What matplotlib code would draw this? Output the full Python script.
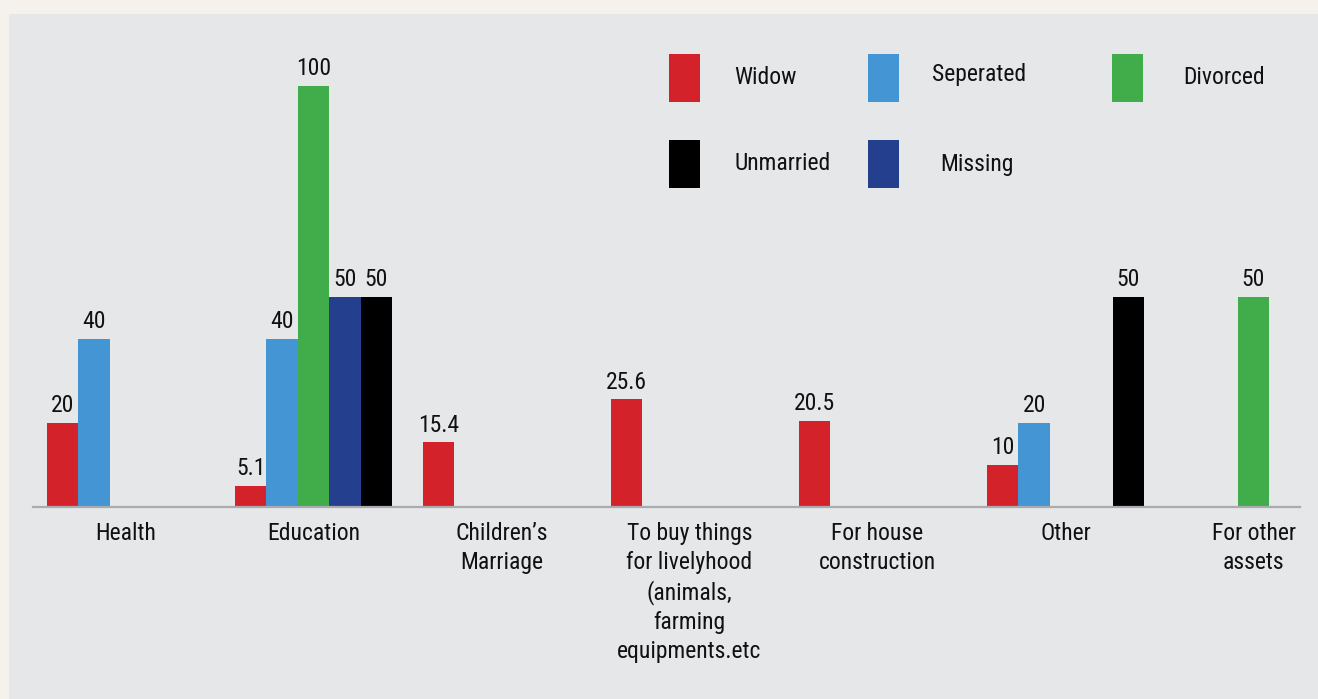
import numpy as np
import matplotlib
matplotlib.use('Agg')
import matplotlib.pyplot as plt
from matplotlib.patches import Rectangle
from matplotlib import font_manager

names = set(f.name for f in font_manager.fontManager.ttflist)
family = 'Roboto Condensed' if 'Roboto Condensed' in names else 'Roboto'
plt.rcParams['font.family'] = [family, 'DejaVu Sans']

categories = ['Health', 'Education', 'Children\u2019s\nMarriage',
              'To buy things\nfor livelyhood\n(animals,\nfarming\nequipments.etc',
              'For house\nconstruction', 'Other', 'For other\nassets']

# bar order inside each group: Widow, Seperated, Divorced, Missing, Unmarried
series = ['Widow', 'Seperated', 'Divorced', 'Missing', 'Unmarried']
widow     = [20, 5.1, 15.4, 25.6, 20.5, 10, None]
seperated = [40, 40, None, None, None, 20, None]
divorced  = [None, 100, None, None, None, None, 50]
missing   = [None, 50, None, None, None, None, None]
unmarried = [None, 50, None, None, None, 50, None]
values = [widow, seperated, divorced, missing, unmarried]

colors = {'Widow': '#d4222b', 'Seperated': '#4495d3', 'Divorced': '#41ad4a',
          'Missing': '#233f8e', 'Unmarried': '#000000'}

fig = plt.figure(figsize=(13.18, 6.99), dpi=100, facecolor='#f5f2ee')
W, H = 1318, 699

# gray panel
fig.patches.append(Rectangle((9 / W, 0), 1 - 9 / W, 1 - 14 / H,
                             transform=fig.transFigure, facecolor='#e6e7e9',
                             edgecolor='none', zorder=-1))

# axes placed so baseline spans 33..1300 px, 0 at y=507, 100 at y=86
ax = fig.add_axes([33 / W, (H - 507) / H, (1300 - 33) / W, (507 - 86) / H])
ax.set_facecolor('none')

x = np.arange(len(categories))
w = 31.4 / 188
ax.set_xlim((33 - 125.5) / 188, (1300 - 125.5) / 188)
ax.set_ylim(0, 100)

for k, name in enumerate(series):
    for i, v in enumerate(values[k]):
        if v is None:
            continue
        xpos = x[i] + (k - 2) * w
        ax.bar(xpos, v, width=w, color=colors[name], linewidth=0, zorder=2)
        ax.annotate(f'{v:g}', (xpos, v), xytext=(0, 4), textcoords='offset points',
                    ha='center', va='bottom', fontsize=17, color='#111111',
                    annotation_clip=False)

for s in ['top', 'right', 'left']:
    ax.spines[s].set_visible(False)
ax.spines['bottom'].set_color('#a9abae')
ax.spines['bottom'].set_linewidth(1.6)
ax.set_yticks([])
ax.set_xticks(x)
ax.set_xticklabels(categories, fontsize=17, color='#111111', linespacing=1.32)
ax.tick_params(axis='x', length=0, pad=11)

# legend drawn by hand: (patch x, patch top y, text x, text centre y) in px
legend_pos = {'Widow': (669, 54, 734, 77), 'Seperated': (868, 54, 932, 74),
              'Divorced': (1112, 54, 1183, 77), 'Unmarried': (669, 140, 734, 163),
              'Missing': (868, 140, 940, 164)}
for name, (px, py, tx, ty) in legend_pos.items():
    fig.patches.append(Rectangle((px / W, 1 - (py + 48) / H), 31 / W, 48 / H,
                                 transform=fig.transFigure,
                                 facecolor=colors[name], edgecolor='none'))
    fig.text(tx / W, 1 - ty / H, name, fontsize=17, color='#111111',
             ha='left', va='center')

fig.savefig('out.png', dpi=100, facecolor=fig.get_facecolor())
